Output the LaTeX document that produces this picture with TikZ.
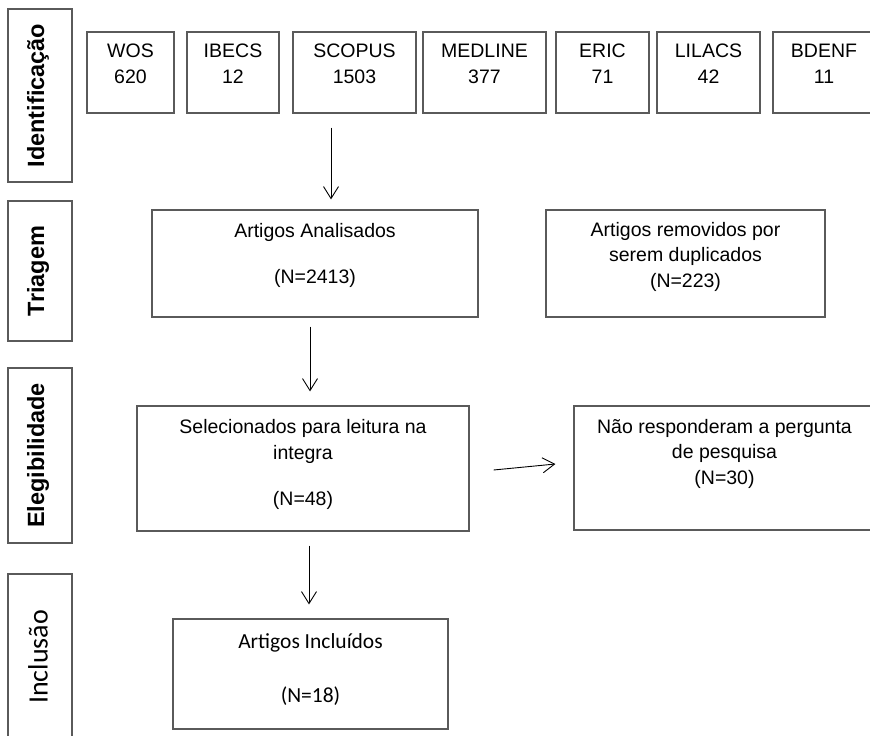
\documentclass[tikz,border=0pt]{standalone}
\usepackage{fontspec}
\setmainfont{Liberation Sans}
\newfontfamily\calib{Carlito}
\usetikzlibrary{arrows.meta}
\definecolor{boxgray}{HTML}{5A5A5A}
\begin{document}
\begin{tikzpicture}[x=1pt,y=-1pt,
  box/.style={draw=boxgray, line width=1.2pt, inner sep=0pt, rectangle},
  txt/.style={align=center, inner sep=0pt, anchor=base, font=\fontsize{19.5}{25.5}\selectfont},
  side/.style={inner sep=0pt, rotate=90, anchor=center, font=\fontsize{23.5}{28}\selectfont\bfseries},
  arr/.style={-{Straight Barb[length=12pt,width=15pt]}, line width=0.9pt, black}]
\clip (0,0) rectangle (870,736);
\fill[white] (0,0) rectangle (870,736);

% side stage boxes
\node[box, minimum width=64pt, minimum height=173pt] (sid) at (40,95.5) {};
\node[side] (tid) at (38,95.5) {Identificação};
\node[box, minimum width=64pt, minimum height=140pt] (str) at (40,271) {};
\node[side] (ttr) at (38,271) {Triagem};
\node[box, minimum width=64pt, minimum height=175pt] (sel2) at (40,455.5) {};
\node[side] (tel) at (38,455.5) {Elegibilidade};
\node[box, minimum width=64pt, minimum height=166pt] (sin) at (40,657) {};
\node[inner sep=0pt, rotate=90, anchor=center, font=\calib\fontsize{28}{32}\selectfont] (tin) at (38,657) {Inclusão};

% database boxes
\node[box, minimum width=87pt, minimum height=81pt] (wos) at (130.5,72.5) {};
\node[txt] (twos) at (130.5,83) {WOS\\620};
\node[box, minimum width=92pt, minimum height=81pt] (ibecs) at (233,72.5) {};
\node[txt] (tibecs) at (233,83) {IBECS\\12};
\node[box, minimum width=123pt, minimum height=81pt] (scopus) at (354.5,72.5) {};
\node[txt] (tscopus) at (354.5,83) {SCOPUS\\1503};
\node[box, minimum width=123pt, minimum height=81pt] (medline) at (484.5,72.5) {};
\node[txt] (tmedline) at (484.5,83) {MEDLINE\\377};
\node[box, minimum width=93pt, minimum height=81pt] (eric) at (602.5,72.5) {};
\node[txt] (teric) at (602.5,83) {ERIC\\71};
\node[box, minimum width=103pt, minimum height=81pt] (lilacs) at (708.5,72.5) {};
\node[txt] (tlilacs) at (708.5,83) {LILACS\\42};
\node[box, minimum width=102pt, minimum height=81pt] (bdenf) at (824,72.5) {};
\node[txt] (tbdenf) at (824,83) {BDENF\\11};

% main flow boxes
\node[box, minimum width=326pt, minimum height=107pt] (ana) at (315,263.5) {};
\node[txt] (tana) at (315,283) {Artigos Analisados\\[20.5pt](N=2413)};
\node[box, minimum width=279pt, minimum height=107pt] (rem) at (685.5,263.5) {};
\node[txt] (trem) at (685.5,287) {Artigos removidos por\\serem duplicados\\(N=223)};
\node[box, minimum width=332pt, minimum height=125pt] (sel) at (303,468.5) {};
\node[txt] (tsel) at (303,505) {Selecionados para leitura na\\integra\\[20.5pt](N=48)};
\node[box, minimum width=301pt, minimum height=124pt] (nao) at (724.5,468) {};
\node[txt] (tnao) at (724.5,484) {Não responderam a pergunta\\de pesquisa\\(N=30)};
\node[box, minimum width=275pt, minimum height=110pt] (inc) at (310.5,674) {};
\node[align=center, inner sep=0pt, anchor=base, font=\calib\fontsize{21.5}{54}\selectfont] (tinc) at (310.5,702) {Artigos Incluídos\\(N=18)};

% arrows
\draw[arr, shorten <=14pt, shorten >=10pt] ([xshift=-23.5pt]scopus.south) -- ([xshift=-23.5pt]scopus.south |- ana.north);
\draw[arr, shorten <=9pt, shorten >=14pt] ([xshift=-5pt]ana.south) -- ([xshift=-5pt]ana.south |- sel.north);
\draw[arr, shorten <=14pt, shorten >=14pt] ([xshift=6pt]sel.south) -- ([xshift=6pt]sel.south |- inc.north);
\draw[arr] ([xshift=24pt,yshift=-1.5pt]sel.east) -- ([xshift=-18pt,yshift=4pt]nao.west);
\end{tikzpicture}
\end{document}
